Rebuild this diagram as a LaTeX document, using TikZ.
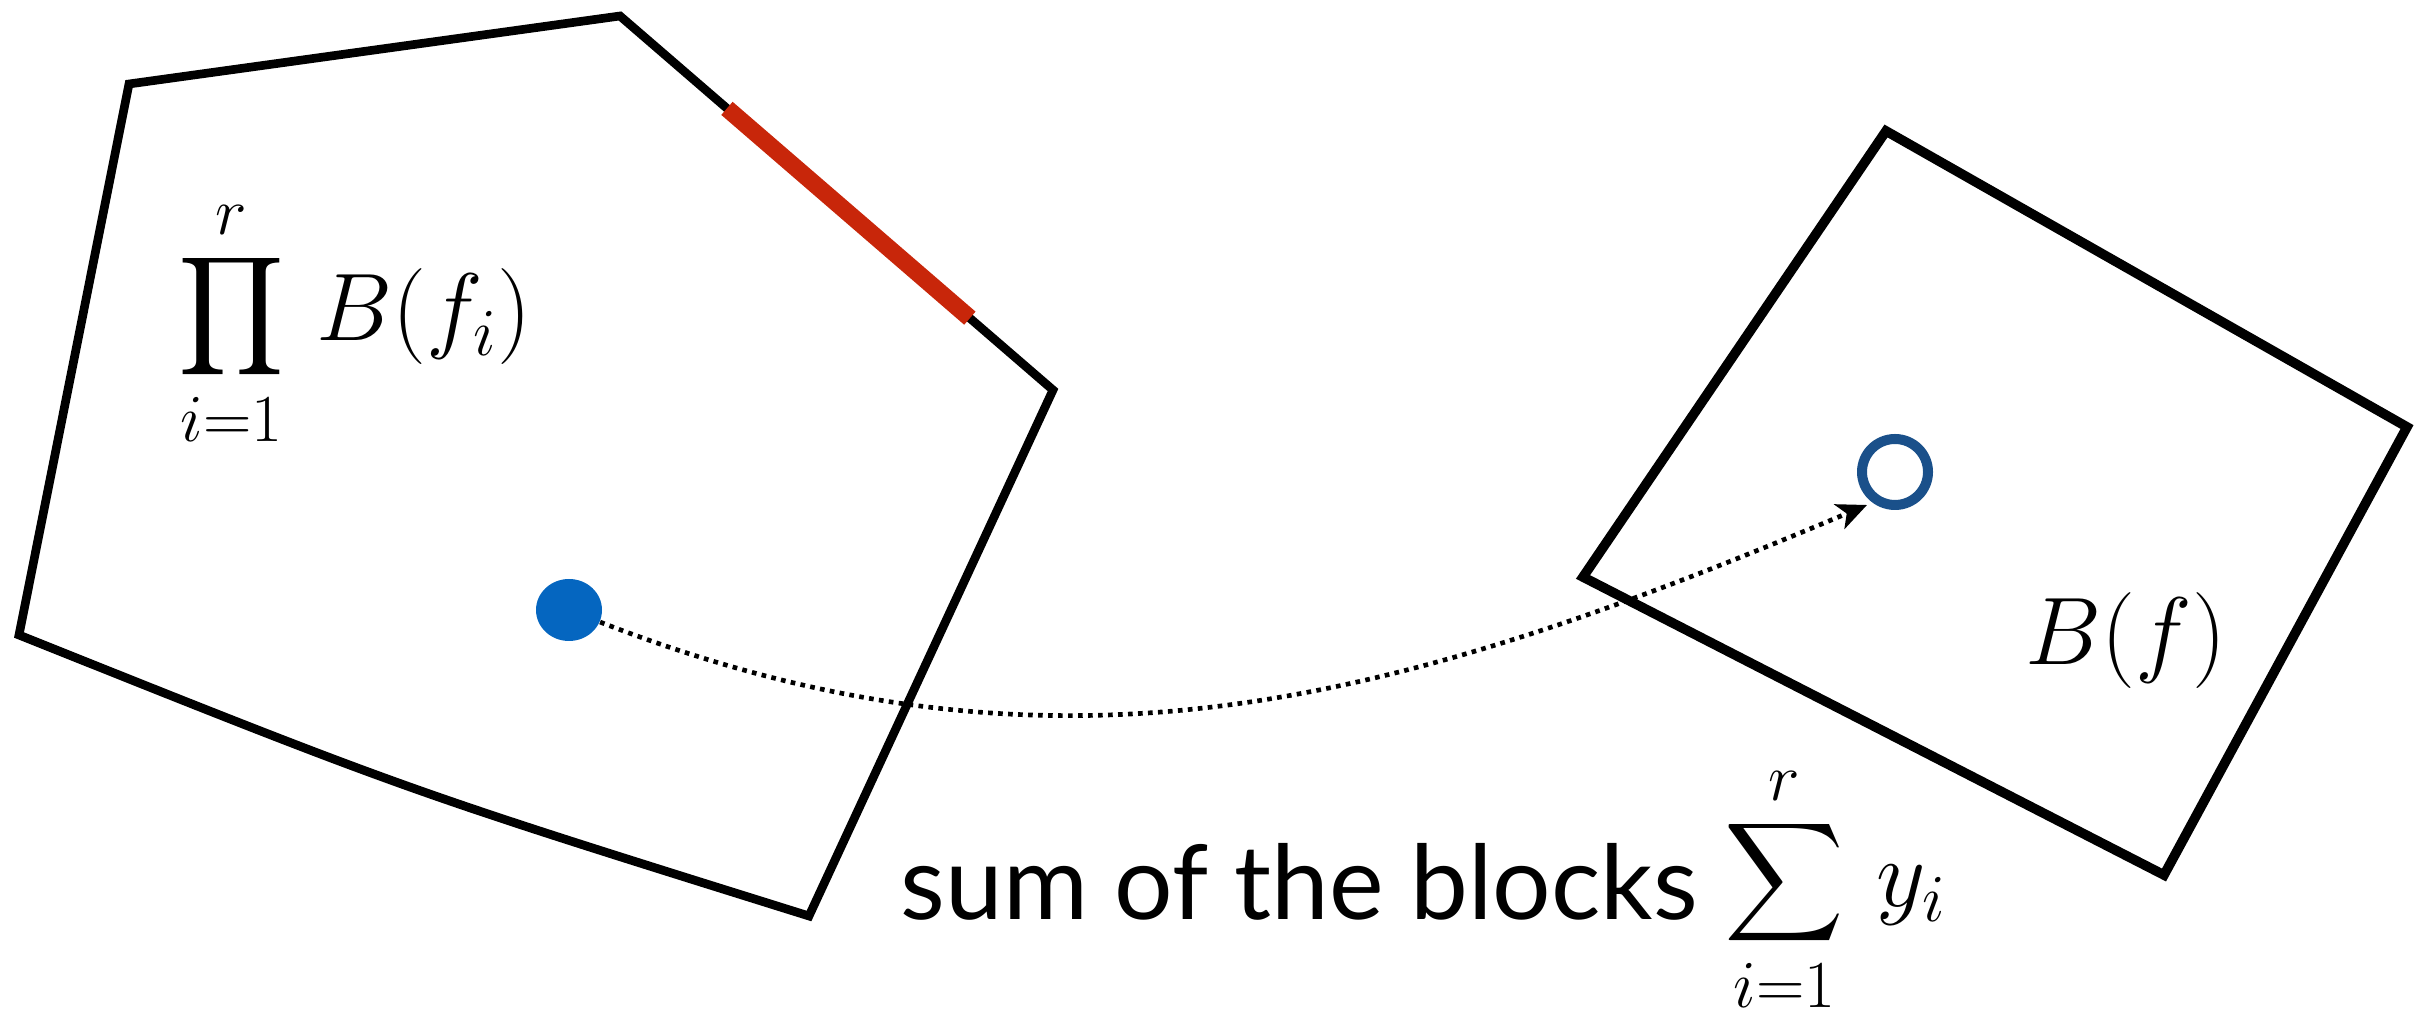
\RequirePackage{fix-cm}
\documentclass[tikz,border=0pt]{standalone}
\usepackage{exscale}
\usepackage{fontspec}
\newfontfamily\gillfont{Lato}
\usetikzlibrary{arrows.meta,shapes.geometric,calc}
\definecolor{edgered}{RGB}{200,38,10}
\definecolor{dotblue}{RGB}{5,102,192}
\definecolor{ringblue}{RGB}{26,80,138}
\begin{document}
\begin{tikzpicture}[x=0.3pt,y=-0.3pt,
  polyA/.style={draw=black, line width=2.6pt, line join=miter},
  polyB/.style={draw=black, line width=2.9pt, line join=miter},
  rededge/.style={draw=edgered, line width=5.2pt, line cap=butt},
  fulldot/.style={ellipse, fill=dotblue, draw=none, inner sep=0pt, minimum width=19.8pt, minimum height=18.6pt},
  ringdot/.style={circle, draw=ringblue, line width=3pt, inner sep=0pt, minimum size=19.8pt},
  flow/.style={draw=black, line width=1.4pt, dash pattern=on 1.4pt off 1.6pt, -{Stealth[length=9pt,width=8pt,inset=2.4pt]}},
  mathlbl/.style={inner sep=0pt, anchor=base west, font=\fontsize{28.8pt}{34pt}\selectfont},
  textlbl/.style={inner sep=0pt, anchor=base west, font=\fontsize{31pt}{37pt}\selectfont\gillfont}
]
\useasboundingbox (0,0) rectangle (2417,1025);
% left polygon
\coordinate (L1) at (129,84);
\coordinate (L2) at (620,16);
\coordinate (L3) at (1053,390);
\coordinate (L4) at (809,916);
\coordinate (L5) at (19,635);
\draw[polyA] (L1) -- (L2) -- (L3) -- (L4) .. controls (409,791) .. (L5) -- cycle;
\draw[rededge] ($(L2)!0.247!(L3)$) -- ($(L2)!0.808!(L3)$);
% right polygon
\coordinate (R1) at (1886,131);
\coordinate (R2) at (2407,427);
\coordinate (R3) at (2164,875);
\coordinate (R4) at (1583,577);
\draw[polyB] (R1) -- (R2) -- (R3) -- (R4) -- cycle;
% points
\node[fulldot] (dot) at (569,610) {};
\node[ringdot] (ring) at (1895,472) {};
\coordinate (tip) at (1867,505);
\draw[flow] (dot) .. controls (1058,800) and (1399,702) .. (tip);
% labels
\node[mathlbl] (prod) at (178,341) {$\displaystyle\prod_{i=1}^{r}\, B(f_i)$};
\node[mathlbl] (bf) at (2025,665) {$B(f)$};
\node[textlbl] (cap) at (900,920) {sum of the blocks};
\node[mathlbl] (sum) at (1724,907) {$\displaystyle\sum_{i=1}^{r}\, y_i$};
\end{tikzpicture}
\end{document}
